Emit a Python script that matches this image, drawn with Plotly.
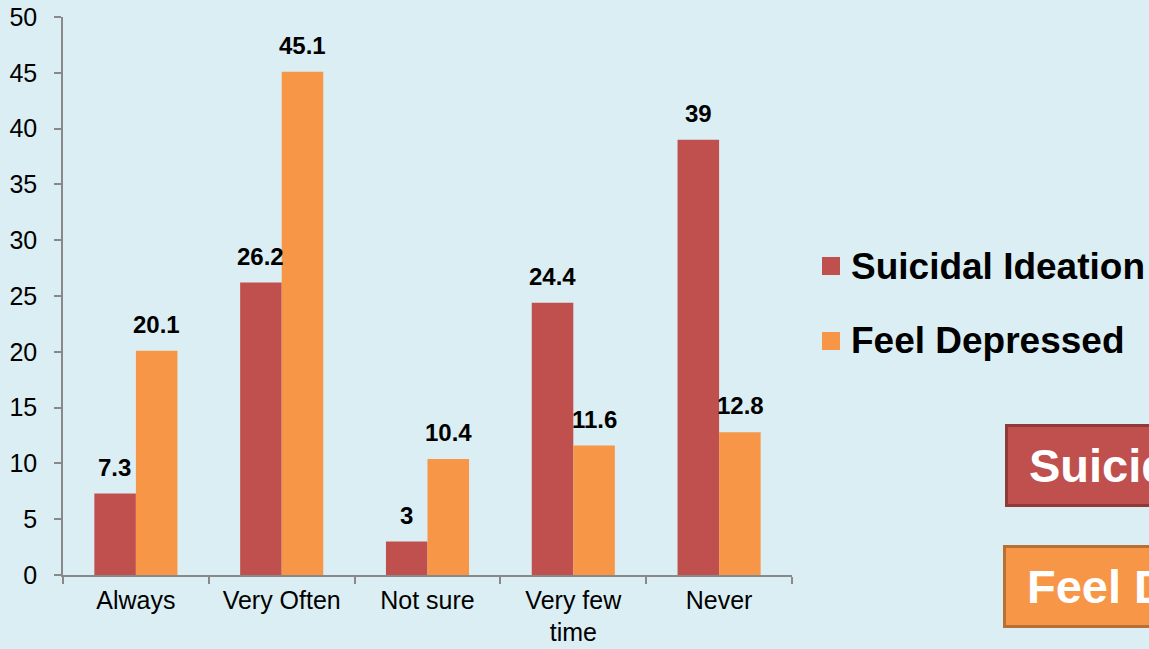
import plotly.graph_objects as go

# Survey responses (%)
categories = ["Always", "Very Often", "Not sure", "Very few<br>time", "Never"]
suicidal_ideation = [7.3, 26.2, 3, 24.4, 39]
feel_depressed = [20.1, 45.1, 10.4, 11.6, 12.8]
series_names = ["Suicidal Ideation", "Feel Depressed"]

RED = "#C0504D"
ORANGE = "#F79646"
BG = "#DBEEF3"
AXIS = "#898989"
FONT = "Liberation Sans, Arial, sans-serif"

ML, MR, MT, MB = 63, 357, 17, 74
W, H = 1149, 649
pw, ph = W - ML - MR, H - MT - MB


def px(x):
    return (x - ML) / pw


def py(y):
    return (H - MB - y) / ph


fig = go.Figure()
for name, vals, color in ((series_names[0], suicidal_ideation, RED),
                          (series_names[1], feel_depressed, ORANGE)):
    fig.add_trace(go.Bar(name=name, x=categories, y=vals, showlegend=False,
                         marker=dict(color=color, line=dict(width=0))))

# value labels above each bar
for vals, shift in ((suicidal_ideation, -21), (feel_depressed, 21)):
    for cat, v in zip(categories, vals):
        fig.add_annotation(x=cat, y=v, text=f"<b>{v:g}</b>", showarrow=False,
                           xshift=shift, yanchor="bottom", yshift=11,
                           font=dict(family=FONT, size=24, color="black"))

# key: colour swatch + series name
for name, color, cy in ((series_names[0], RED, 266), (series_names[1], ORANGE, 341)):
    fig.add_shape(type="rect", xref="paper", yref="paper",
                  x0=px(822), x1=px(840), y0=py(cy + 9), y1=py(cy - 9),
                  fillcolor=color, line=dict(width=0))
    fig.add_annotation(xref="paper", yref="paper", x=px(849), y=py(cy),
                       xanchor="left", yanchor="middle", showarrow=False,
                       text=f"<b>{name}</b>",
                       font=dict(family=FONT, size=37, color="black"))

# highlighted boxes at the lower right
for name, fill, edge, left, top, bottom in ((series_names[0], RED, "#8E3A38", 1006.5, 425.5, 505.5),
                                             (series_names[1], ORANGE, "#B86F33", 1004.5, 546.5, 626.5)):
    fig.add_shape(type="rect", xref="paper", yref="paper",
                  x0=px(left), x1=px(1200), y0=py(bottom), y1=py(top),
                  fillcolor=fill, line=dict(color=edge, width=3), layer="above")
    fig.add_annotation(xref="paper", yref="paper", x=px(left + 20), y=py((top + bottom) / 2),
                       xanchor="left", yanchor="middle", showarrow=False,
                       text=f"<b>{name}</b>",
                       font=dict(family=FONT, size=47, color="white"))

fig.update_layout(
    width=W, height=H,
    margin=dict(l=ML, r=MR, t=MT, b=MB, pad=0),
    paper_bgcolor=BG, plot_bgcolor=BG,
    barmode="group", bargap=0.43, bargroupgap=0,
    font=dict(family=FONT, size=25, color="black"),
    showlegend=False,
    xaxis=dict(range=[-0.5, 4.5], showline=True, linecolor=AXIS, linewidth=1.5,
               ticks="outside", ticklen=7, tickcolor=AXIS, tickwidth=1.5,
               tickson="boundaries", showgrid=False, automargin=False,
               ticklabelstandoff=2,
               tickfont=dict(family=FONT, size=25)),
    yaxis=dict(range=[0, 50], dtick=5, showline=True, linecolor=AXIS, linewidth=1.5,
               ticks="outside", ticklen=7, tickcolor=AXIS, tickwidth=1.5,
               showgrid=False, zeroline=False, ticklabelstandoff=12, automargin=False,
               tickfont=dict(family=FONT, size=25)),
)

fig.write_html("out.html")
